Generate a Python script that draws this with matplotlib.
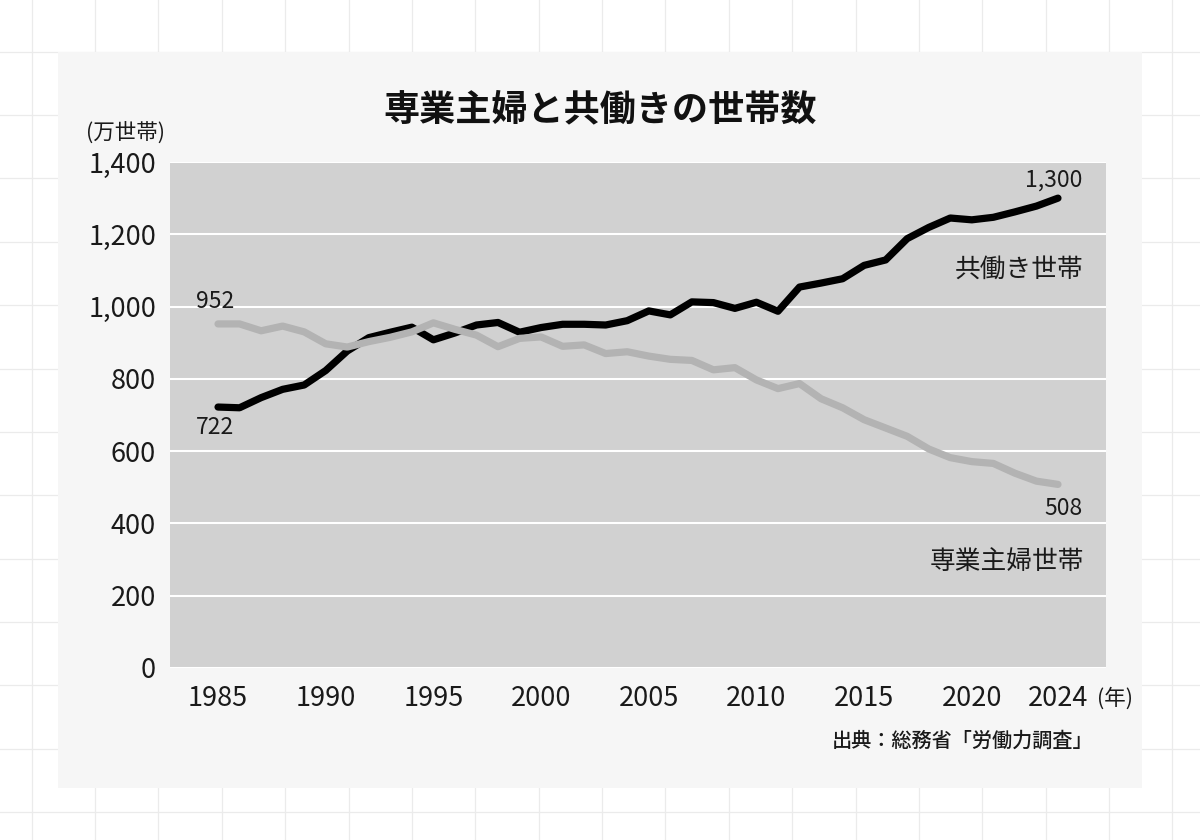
import matplotlib
matplotlib.use('Agg')
import matplotlib.pyplot as plt
from matplotlib.patches import Rectangle
from matplotlib.lines import Line2D

plt.rcParams['font.family'] = ['Noto Sans CJK JP', 'DejaVu Sans']

years = list(range(1985, 2025))
dual = [722, 720, 748, 771, 783, 823, 877, 914, 929, 943,
        908, 927, 949, 956, 929, 942, 951, 951, 949, 961,
        988, 977, 1013, 1011, 995, 1012, 987, 1054, 1065, 1077,
        1114, 1129, 1188, 1219, 1245, 1240, 1247, 1262, 1278, 1300]
housewife = [952, 952, 933, 946, 930, 897, 888, 903, 915, 930,
             955, 937, 921, 889, 912, 916, 890, 894, 870, 875,
             863, 854, 851, 825, 831, 797, 773, 787, 745, 720,
             687, 664, 641, 606, 582, 571, 566, 539, 517, 508]
xticks = [1985, 1990, 1995, 2000, 2005, 2010, 2015, 2020, 2024]
yticks = [0, 200, 400, 600, 800, 1000, 1200, 1400]

W, H = 1200, 840
fig = plt.figure(figsize=(12, 8.4), dpi=100)
fig.patch.set_facecolor('white')

# graph paper background
step = 63.37
gx = 31.7
while gx < W:
    fig.add_artist(Line2D([gx / W, gx / W], [0, 1], color='#ebebeb', lw=0.9, zorder=-2))
    gx += step
gy = 51.7 - step
while gy < H:
    fig.add_artist(Line2D([0, 1], [1 - gy / H, 1 - gy / H], color='#ebebeb', lw=0.9, zorder=-2))
    gy += step

# card
fig.add_artist(Rectangle((58 / W, 1 - 788 / H), (1142 - 58) / W, (788 - 52) / H,
                         facecolor='#f6f6f6', edgecolor='none', zorder=-1))

ax = fig.add_axes([170 / W, 1 - 668 / H, 936 / W, 506 / H])
ax.set_zorder(2)
ax.set_facecolor('#d1d1d1')
ax.set_xlim(1982.77, 2026.23)
ax.set_ylim(0, 1400)
for s in ax.spines.values():
    s.set_visible(False)
ax.set_yticks(yticks)
ax.set_yticklabels([f'{v:,}' for v in yticks])
ax.set_xticks(xticks)
ax.set_xticklabels([str(v) for v in xticks])
ax.tick_params(axis='both', length=0, labelsize=19.5, labelcolor='#1a1a1a')
ax.tick_params(axis='x', pad=12)
ax.tick_params(axis='y', pad=10)
ax.grid(axis='y', color='white', lw=1.5)
ax.set_axisbelow(True)

ax.plot(years, dual, color='black', lw=5.2, solid_capstyle='round', solid_joinstyle='round', zorder=3)
ax.plot(years, housewife, color='#b3b3b3', lw=5.2, solid_capstyle='round', solid_joinstyle='round', zorder=4)

lab = dict(fontsize=16.5, color='#1a1a1a', ha='center', va='center', textcoords='offset points')
ax.annotate(f'{housewife[0]:,}', (years[0], housewife[0]), xytext=(-2, 16), **lab)
ax.annotate(f'{dual[0]:,}', (years[0], dual[0]), xytext=(-2, -15), **lab)
ax.annotate(f'{dual[-1]:,}', (years[-1], dual[-1]), xytext=(-3, 13), **lab)
ax.annotate(f'{housewife[-1]:,}', (years[-1], housewife[-1]), xytext=(4, -17), **lab)

ax.text(2025.2, 1101, '共働き世帯', fontsize=18.5, ha='right', va='center', color='#1a1a1a')
ax.text(2025.2, 293, '専業主婦世帯', fontsize=18.5, ha='right', va='center', color='#1a1a1a')

fig.text(600 / W, 1 - 110 / H, '専業主婦と共働きの世帯数', fontsize=26, fontweight='bold',
         ha='center', va='center', color='#111111')
fig.text(86 / W, 1 - 133 / H, '(万世帯)', fontsize=15.5, ha='left', va='center', color='#1a1a1a')
fig.text(1097 / W, 1 - 699 / H, '(年)', fontsize=15.5, ha='left', va='center', color='#1a1a1a')
fig.text(1093 / W, 1 - 741 / H, '出典：総務省「労働力調査」', fontsize=14.5, fontweight='medium',
         ha='right', va='center', color='#1a1a1a')

fig.savefig('out.png', dpi=100, facecolor=fig.get_facecolor())
